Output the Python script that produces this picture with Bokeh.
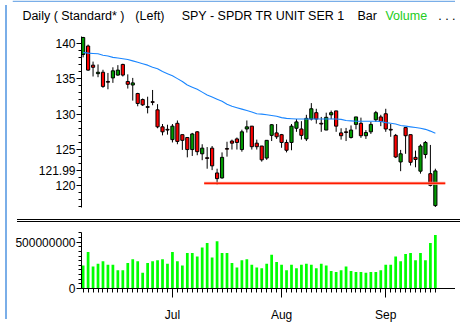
import numpy as np
from bokeh.plotting import figure
from bokeh.models import Range1d, FixedTicker, Span, Div, ColumnDataSource
from bokeh.layouts import row, column
from bokeh.core.properties import value
from bokeh.embed import file_html
from bokeh.resources import INLINE

# ---------------- data (SPY daily) ----------------
opens = [138.4, 139.6, 136.9, 135.7, 135.9, 134.6, 135.1, 135.5, 137.0, 134.6,
         134.1, 132.9, 132.05, 131.05, 131.75, 130.6, 128.2, 127.85, 126.4, 128.7,
         127.1, 126.7, 125.0, 127.5, 124.4, 123.85, 125.2, 121.7, 121.0, 125.15,
         126.2, 126.5, 125.0, 127.9, 128.3, 125.9, 125.5, 123.8, 127.0, 127.35,
         127.1, 126.0, 126.0, 128.0, 127.9, 126.5, 129.3, 130.2, 128.7, 127.75,
         129.9, 130.45, 127.35, 127.5, 126.7, 128.55, 128.7, 126.95, 127.5, 129.2,
         129.6, 130.05, 127.85, 127.0, 123.25, 128.1, 127.1, 123.9, 121.95, 124.3,
         121.6, 117.1]
highs = [140.9, 139.8, 137.4, 137.0, 136.25, 135.8, 136.6, 136.9, 137.1, 135.6,
         135.1, 133.0, 132.2, 132.45, 133.4, 131.4, 128.6, 128.5, 128.6, 129.1,
         127.1, 126.7, 127.35, 127.6, 125.75, 125.35, 125.5, 122.3, 124.6, 126.1,
         126.4, 126.7, 127.8, 129.1, 128.3, 126.4, 125.5, 126.3, 128.6, 128.6,
         127.2, 126.4, 128.6, 129.3, 129.0, 129.9, 131.55, 130.75, 129.6, 130.2,
         130.5, 130.45, 128.0, 128.05, 128.4, 129.6, 129.5, 127.75, 128.9, 130.45,
         129.9, 130.75, 128.6, 127.2, 124.95, 128.1, 127.1, 124.85, 125.75, 126.2,
         125.65, 122.3]
lows = [138.0, 136.1, 135.3, 135.2, 133.7, 133.5, 134.4, 135.4, 135.3, 133.6,
        131.9, 131.1, 131.15, 130.1, 131.25, 128.0, 127.0, 127.1, 126.0, 125.75,
        124.95, 123.9, 124.1, 124.2, 123.5, 122.3, 122.1, 120.0, 120.9, 124.0,
        125.0, 125.0, 124.7, 127.4, 125.0, 125.0, 123.3, 123.55, 126.2, 126.5,
        125.25, 124.6, 124.9, 127.5, 126.4, 126.2, 129.1, 128.65, 127.5, 127.75,
        129.3, 127.5, 126.4, 126.2, 126.55, 127.85, 126.65, 126.5, 127.2, 128.9,
        128.3, 127.5, 126.8, 123.8, 121.95, 124.4, 122.75, 122.5, 121.6, 123.75,
        119.8, 116.9]
closes = [140.8, 136.2, 136.6, 135.9, 133.9, 134.5, 136.1, 136.2, 135.5, 134.2,
          134.4, 131.5, 131.3, 130.95, 131.65, 128.2, 127.5, 127.75, 128.3, 126.15,
          126.3, 125.0, 127.2, 124.7, 125.2, 123.75, 122.7, 120.9, 123.9, 125.05,
          125.9, 126.0, 127.5, 128.2, 125.4, 125.4, 123.55, 126.3, 128.5, 126.8,
          126.0, 124.9, 128.3, 128.9, 127.0, 129.4, 130.75, 129.3, 128.6, 129.55,
          130.2, 128.3, 126.95, 127.4, 127.75, 129.6, 126.95, 127.4, 128.55, 130.2,
          128.95, 127.9, 127.75, 123.95, 124.4, 126.95, 123.2, 123.6, 125.5, 126.0,
          119.95, 121.99]
moving_avg = [138.7, 138.6, 138.55, 138.5, 138.3, 138.2, 138.0, 137.9, 137.8, 137.7,
              137.5, 137.3, 137.1, 136.9, 136.6, 136.4, 136.0, 135.7, 135.4, 135.0,
              134.6, 134.1, 133.8, 133.5, 133.1, 132.7, 132.4, 132.1, 131.8, 131.4,
              131.1, 130.9, 130.7, 130.5, 130.3, 130.05, 130.0, 129.9, 129.8, 129.7,
              129.5, 129.4, 129.35, 129.3, 129.3, 129.3, 129.3, 129.3, 129.3, 129.3,
              129.3, 129.3, 129.25, 129.1, 129.05, 129.0, 129.0, 129.0, 129.0, 129.0,
              128.95, 128.8, 128.7, 128.6, 128.4, 128.3, 128.2, 128.1, 128.0, 127.85,
              127.6, 127.3]
volumes_m = [247, 393, 237, 266, 295, 257, 257, 198, 198, 276, 315, 295, 169, 276, 295,
             305, 315, 266, 393, 295, 247, 383, 383, 344, 442, 490, 334, 510, 383, 383,
             276, 227, 305, 315, 257, 227, 218, 266, 364, 286, 257, 198, 257, 218, 257,
             266, 257, 218, 266, 247, 188, 179, 198, 237, 188, 179, 179, 169, 179, 179,
             198, 257, 257, 344, 295, 373, 383, 305, 383, 305, 490, 578]
month_tick_idx = [18, 40, 61]
month_labels = ["Jul", "Aug", "Sep"]
price_ticks = [120, 121.99, 125, 130, 135, 140]
price_labels = ["120", "121.99", "125", "130", "135", "140"]
volume_ticks = [0, 500000000]
volume_labels = ["0", "500000000"]
support_level = 120.24
support_from = 24.4
support_to = 73.0
header_texts = ["Daily ( Standard* )", "(Left)", "SPY - SPDR TR UNIT SER 1", "Bar", "Volume", ". . ."]

# ---------------- styles / layout ----------------
FONT = "Liberation Sans"
RED = "#ff0000"
GREEN = "#009a00"
VOLGREEN = "#00ff00"
BLUE_MA = "#1a86ff"
FRAME_BLUE = "#7aaee8"
FIG_W, BORDER_L = 443, 67

n = len(closes)
idx = np.arange(n)
o = np.array(opens); c = np.array(closes)
src = ColumnDataSource(dict(
    x=idx, high=highs, low=lows,
    top=np.maximum(o, c), bottom=np.minimum(o, c),
    color=[GREEN if cc > oo else RED for oo, cc in zip(opens, closes)],
    ma=moving_avg, vol=np.array(volumes_m) * 1e6,
))

xr = Range1d(-0.33, 75.06)

# ---------------- header strip (own frame, not aligned with the panes) ----------------
hdr = figure(width=FIG_W, height=31, x_range=Range1d(2.07, 460.9), y_range=Range1d(32.6, 0),
             min_border=0, min_border_left=0, min_border_right=0, min_border_top=0,
             min_border_bottom=0, toolbar_location=None, output_backend="svg",
             x_axis_location=None, y_axis_location=None, outline_line_color=None)
hdr.frame_align = False
hdr.xgrid.visible = False
hdr.ygrid.visible = False
hdr_x = [12.3, 129.3, 177.3, 359.3, 388.3, 443.0]
hdr_colors = ["black", "black", "black", "black", "#22cc22", "black"]
hdr.text(x=hdr_x, y=[16.3] * len(hdr_x), text=header_texts, text_color=hdr_colors,
         text_font=value(FONT), text_font_size="12.5px", text_baseline="alphabetic",
         text_align="left")
hdr.add_layout(Span(location=0.7, dimension="width", line_color=FRAME_BLUE, line_width=1.5))

# ---------------- price pane ----------------
p = figure(width=FIG_W, height=183, x_range=xr, y_range=Range1d(116.83, 140.94),
           min_border_left=BORDER_L, min_border_right=0, min_border_top=5, min_border_bottom=7,
           toolbar_location=None, output_backend="svg", x_axis_location=None,
           outline_line_color=None)
p.xgrid.visible = False
p.ygrid.visible = False
p.segment(x0="x", y0="high", x1="x", y1="low", source=src, line_color="black", line_width=1)
p.vbar(x="x", top="top", bottom="bottom", width=0.64, source=src,
       fill_color="color", line_color="black", line_width=1)
p.line(x="x", y="ma", source=src, line_color=BLUE_MA, line_width=1.1)
p.line(x=[support_from, support_to], y=[support_level, support_level],
       line_color="#ffa090", line_width=3.2, line_alpha=0.8)
p.line(x=[support_from, support_to], y=[support_level, support_level],
       line_color="#ff1a00", line_width=1.4)

ya = p.yaxis[0]
ya.ticker = FixedTicker(ticks=price_ticks, minor_ticks=list(range(117, 141)))
ya.major_label_overrides = {t: s for t, s in zip(price_ticks, price_labels)}
ya.major_tick_in = 0
ya.minor_tick_in = 0
ya.major_tick_out = 5
ya.minor_tick_out = 3
ya.major_label_standoff = 1
ya.major_label_text_font = FONT
ya.major_label_text_font_size = "12px"
ya.major_label_text_color = "black"
ya.axis_line_color = "black"
ya.major_tick_line_color = "black"
ya.minor_tick_line_color = "black"

sep = Div(text="", width=FIG_W, height=3,
          styles={"border-top": "1px solid black", "border-bottom": "1px solid black",
                  "box-sizing": "border-box"})

# ---------------- volume pane ----------------
v = figure(width=FIG_W, height=97, x_range=xr, y_range=Range1d(0, 604e6),
           min_border_left=BORDER_L, min_border_right=0, min_border_top=5, min_border_bottom=33,
           toolbar_location=None, output_backend="svg", outline_line_color=None)
v.xgrid.visible = False
v.ygrid.visible = False
v.vbar(x="x", top="vol", bottom=0, width=0.55, source=src, fill_color=VOLGREEN,
       line_color=None)

vy = v.yaxis[0]
vy.ticker = FixedTicker(ticks=volume_ticks, minor_ticks=[i * 50e6 for i in range(13)])
vy.major_label_overrides = {t: s for t, s in zip(volume_ticks, volume_labels)}
vx = v.xaxis[0]
vx.ticker = FixedTicker(ticks=month_tick_idx, minor_ticks=list(range(0, n)))
vx.major_label_overrides = {t: s for t, s in zip(month_tick_idx, month_labels)}
for ax in (vy, vx):
    ax.major_tick_in = 0
    ax.minor_tick_in = 0
    ax.major_label_text_font = FONT
    ax.major_label_text_font_size = "12px"
    ax.major_label_text_color = "black"
    ax.axis_line_color = "black"
    ax.major_tick_line_color = "black"
    ax.minor_tick_line_color = "black"
vy.major_tick_out = 5
vy.minor_tick_out = 3
vy.major_label_standoff = 1
vx.major_tick_out = 9
vx.minor_tick_out = 4
vx.major_label_standoff = 10

left_strip = Div(text="", width=2, height=314, styles={"background-color": FRAME_BLUE})
right_strip = Div(text="", width=1, height=314, styles={"background-color": FRAME_BLUE})

layout = row(left_strip, column(hdr, p, sep, v, spacing=0), right_strip, spacing=0)

open("out.html", "w").write(file_html(layout, INLINE))
